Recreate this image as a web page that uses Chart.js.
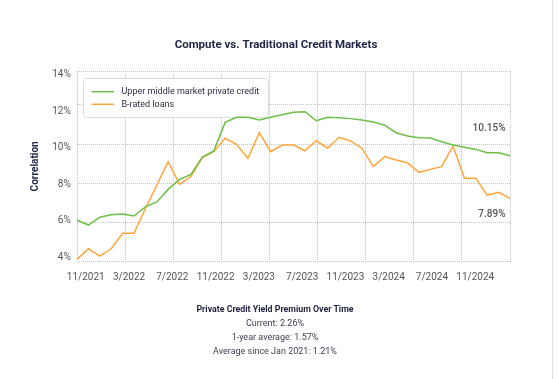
<!DOCTYPE html>
<html><head><meta charset="utf-8">
<script src="https://cdn.jsdelivr.net/npm/chart.js@4.4.1/dist/chart.umd.min.js"></script>
<style>
html,body{margin:0;padding:0;background:#fff;}
#wrap{position:relative;width:557px;height:379px;overflow:hidden;font-family:Roboto,sans-serif;}
#c{position:absolute;left:0;top:0;}
#edge{position:absolute;left:552px;top:0;width:0;height:379px;border-left:1px dotted #c8c8c8;}
#stats{position:absolute;left:0;top:302px;width:550px;text-align:center;line-height:14px;font-size:9px;color:#3b3f52;}
#stats .h{font-weight:bold;color:#1e2240;font-size:8.8px;}
</style></head><body>
<div id="wrap">
<canvas id="c" width="557" height="379"></canvas>
<div id="edge"></div>
<div id="stats">
 <div class="h">Private Credit Yield Premium Over Time</div>
 <div>Current: 2.26%</div>
 <div>1-year average: 1.57%</div>
 <div>Average since Jan 2021: 1.21%</div>
</div>
</div>
<script>
const months = ['11/2021','12/2021','1/2022','2/2022','3/2022','4/2022','5/2022','6/2022','7/2022','8/2022','9/2022','10/2022','11/2022','12/2022',
  '1/2023','2/2023','3/2023','4/2023','5/2023','6/2023','7/2023','8/2023','9/2023','10/2023','11/2023','12/2023',
  '1/2024','2/2024','3/2024','4/2024','5/2024','6/2024','7/2024','8/2024','9/2024','10/2024','11/2024','12/2024','1/2025'];
const privateCredit = [6.13, 5.87, 6.27, 6.40, 6.43, 6.33, 6.80, 7.05, 7.69, 8.20, 8.45, 9.34, 9.65, 11.11, 11.37, 11.37, 11.23, 11.37, 11.50, 11.62,
  11.65, 11.19, 11.37, 11.35, 11.30, 11.23, 11.13, 10.97, 10.58, 10.41, 10.33, 10.31, 10.12, 9.95, 9.84, 9.73, 9.56, 9.56, 9.41];
const bRatedLoans = [4.12, 4.66, 4.29, 4.66, 5.45, 5.45, 6.70, 7.90, 9.10, 7.95, 8.35, 9.31, 9.61, 10.30, 9.99, 9.28, 10.58, 9.61, 9.95, 9.95,
  9.66, 10.17, 9.79, 10.35, 10.16, 9.79, 8.85, 9.36, 9.19, 9.05, 8.56, 8.71, 8.85, 9.90, 8.26, 8.26, 7.40, 7.54, 7.23];
const seriesNames = ['Upper middle market private credit', 'B-rated loans'];
const tickLabels = ['11/2021','3/2022','7/2022','11/2022','3/2023','7/2023','11/2023','3/2024','7/2024','11/2024'];
const endLabels = ['10.15%', '7.89%'];

Chart.defaults.font.family = 'Roboto, sans-serif';

const legendPlugin = {
  id: 'boxLegend',
  beforeDatasetsDraw(chart) {
    const ctx = chart.ctx, a = chart.chartArea;
    const x0 = a.left + 6.5, y0 = a.top + 7.5, w = 185, h = 39;
    ctx.save();
    ctx.fillStyle = '#fff';
    ctx.setLineDash([1, 1]);
    ctx.strokeStyle = '#bdbdbd';
    ctx.lineWidth = 1;
    ctx.beginPath();
    ctx.roundRect(x0, y0, w, h, 3);
    ctx.fill();
    ctx.stroke();
    ctx.setLineDash([]);
    chart.data.datasets.forEach((ds, i) => {
      const y = y0 + 13.2 + i * 12.6;
      ctx.strokeStyle = ds.borderColor;
      ctx.lineWidth = 1.5;
      ctx.beginPath();
      ctx.moveTo(x0 + 8, y);
      ctx.lineTo(x0 + 30.5, y);
      ctx.stroke();
      ctx.fillStyle = '#2a2d40';
      ctx.font = '9px Roboto, sans-serif';
      ctx.textBaseline = 'middle';
      ctx.textAlign = 'left';
      ctx.fillText(ds.label, x0 + 38, y);
    });
    ctx.restore();
  }
};

const endLabelPlugin = {
  id: 'endLabels',
  afterDatasetsDraw(chart) {
    const ctx = chart.ctx;
    ctx.save();
    ctx.font = '500 10px Roboto, sans-serif';
    ctx.fillStyle = '#555';
    ctx.textAlign = 'right';
    ctx.textBaseline = 'middle';
    const offs = [-26.7, 16];
    chart.data.datasets.forEach((ds, i) => {
      const meta = chart.getDatasetMeta(i);
      const pt = meta.data[meta.data.length - 1];
      ctx.fillText(endLabels[i], chart.chartArea.right - 4.5, pt.y + offs[i]);
    });
    ctx.restore();
  }
};

const gridColor = '#c4c4c4';

new Chart(document.getElementById('c'), {
  type: 'line',
  data: {
    labels: months,
    datasets: [
      {label: seriesNames[0], data: privateCredit, borderColor: '#6cbf47', backgroundColor: '#6cbf47', borderWidth: 1.5, pointRadius: 0, tension: 0, xAxisID: 'x', yAxisID: 'y'},
      {label: seriesNames[1], data: bRatedLoans, borderColor: '#ffa53a', backgroundColor: '#ffa53a', borderWidth: 1.5, pointRadius: 0, tension: 0, xAxisID: 'x', yAxisID: 'y'}
    ]
  },
  options: {
    responsive: false,
    animation: false,
    devicePixelRatio: 1,
    layout: {padding: {left: 0, right: 5, top: 0, bottom: 0}},
    plugins: {
      legend: {display: false},
      tooltip: {enabled: false},
      title: {display: true, text: 'Compute vs. Traditional Credit Markets', color: '#1f2544',
        font: {size: 11.5, weight: 'bold'}, padding: {top: 38.1, bottom: 19.1}}
    },
    scales: {
      x: {type: 'category', display: false},
      xg: {type: 'linear', position: 'bottom', min: 0, max: 9,
        ticks: {display: false, stepSize: 1},
        grid: {color: gridColor, drawTicks: false, lineWidth: 1},
        border: {display: false, dash: [1, 1]}},
      xl: {type: 'linear', position: 'bottom', min: -0.203, max: 9.803,
        grid: {display: false, drawTicks: false}, border: {display: false},
        ticks: {stepSize: 1, includeBounds: false, autoSkip: false, maxRotation: 0, padding: 9.6, color: '#555',
          font: {size: 10}, callback: v => tickLabels[v]},
        afterFit: s => { s.height = 117.3; }},
      y: {type: 'linear', position: 'left', min: 4, max: 13.73,
        ticks: {display: false, stepSize: 2},
        grid: {color: gridColor, drawTicks: false, lineWidth: 1},
        border: {display: false, dash: [1, 1]}},
      yl: {type: 'linear', position: 'left', min: 3.759, max: 14.219,
        grid: {display: false, drawTicks: false}, border: {display: false},
        ticks: {stepSize: 2, includeBounds: false, padding: 6.3, color: '#555', font: {size: 10}, callback: v => v + '%'},
        title: {display: true, text: 'Correlation', color: '#1f2544', font: {size: 10, weight: 'bold'}, padding: {top: 29.7, bottom: 0}},
        afterFit: s => { s.width = 77; }},
      yr: {type: 'linear', position: 'right', min: 0, max: 1,
        grid: {display: false, drawTicks: false}, border: {display: false},
        ticks: {display: false},
        afterFit: s => { s.width = 42; }}
    }
  },
  plugins: [legendPlugin, endLabelPlugin]
});
</script>
</body></html>
